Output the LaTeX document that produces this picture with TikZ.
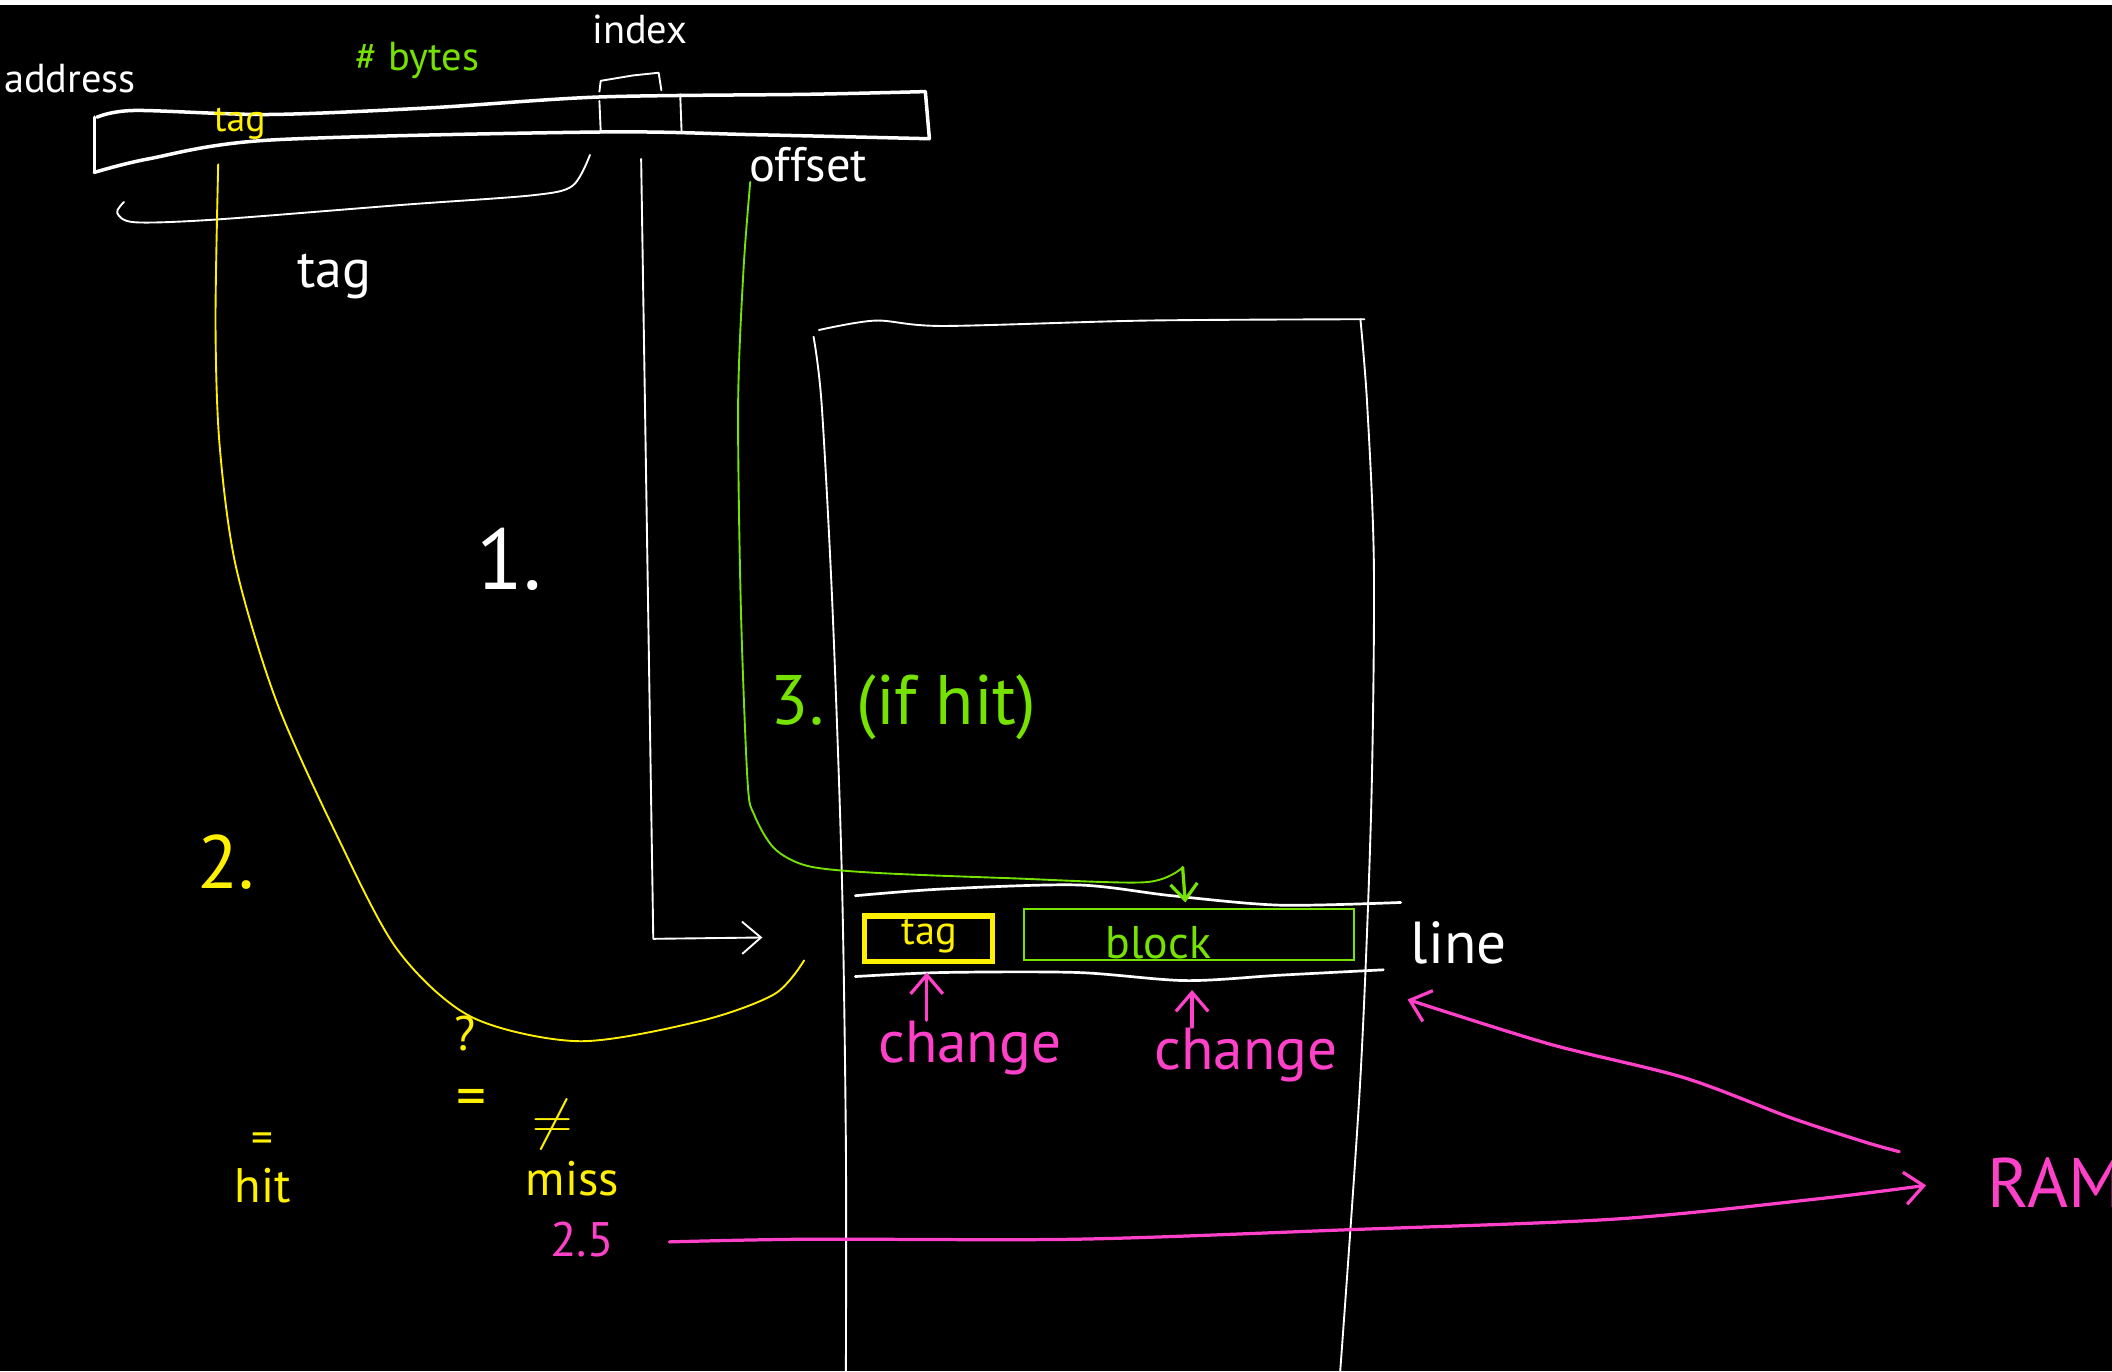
\documentclass[tikz,border=0pt]{standalone}
\usepackage{fontspec}
\setmainfont{PT Sans}
\usetikzlibrary{arrows.meta}
\definecolor{hlyellow}{RGB}{255,240,0}
\definecolor{hlgreen}{RGB}{118,226,0}
\definecolor{hlpink}{RGB}{255,64,200}
\tikzset{
  wline/.style={white, line width=0.7pt, line cap=round, line join=round},
  wbar/.style={white, line width=1.3pt, line cap=round, line join=round},
  yline/.style={hlyellow, line width=0.7pt, line cap=round},
  gline/.style={hlgreen, line width=0.7pt, line cap=round},
  pline/.style={hlpink, line width=1.2pt, line cap=round},
  barb/.style={-{Straight Barb[length=7pt,width=12pt]}},
  hand/.style={inner sep=0pt, font=\fontsize{#1}{#1}\selectfont},
}
\begin{document}
\begin{tikzpicture}[x=0.5pt,y=-0.5pt]
  \fill[black] (0,0) rectangle (1568,1018);
  \useasboundingbox (0,0) rectangle (1568,1018);
  \fill[white] (0,0) rectangle (1568,4);

  % address split into tag / index / offset
  \draw[wbar] plot[smooth] coordinates {(72,87) (100,82) (200,85) (320,80) (445,72) (600,70) (687,68)};
  \draw[wbar] plot[smooth] coordinates {(70,128) (110,118) (200,104) (445,98) (560,100) (690,103)};
  \draw[wbar] (70,87) -- (70,128);
  \draw[wbar] (687,68) -- (690,103);
  \draw[wline] (445,75) -- (446,98);
  \draw[wline] (505,70) -- (506,97);
  \draw[wline] (445,68) -- (446,60) -- (470,56) -- (489,54) -- (491,67);
  \draw[wline] plot[smooth] coordinates {(92,150) (87,158) (100,165) (160,163) (300,152) (395,145) (425,138) (438,115)};

  \node[hand=15, white] (addr) at (52,58) {address};
  \node[hand=15, hlgreen] (bytes) at (310,45) {\# bytes};
  \node[hand=15, white] (idx) at (475,22) {index};
  \node[hand=14, hlyellow] (tagbar) at (178,92) {tag};
  \node[hand=18, white] (offs) at (600,122) {offset};
  \node[hand=20, white] (tagw) at (248,205) {tag};

  % cache
  \draw[wline] plot[smooth] coordinates {(604,250) (610,300) (618,450) (625,650) (628,850) (628,1018)};
  \draw[wline] plot[smooth] coordinates {(608,245) (650,238) (700,242) (850,238) (1013,237)};
  \draw[wline] plot[smooth] coordinates {(1010,237) (1015,300) (1020,420) (1018,600) (1010,800) (995,1018)};

  % one cache line
  \draw[wline, line width=1pt] plot[smooth] coordinates {(635,665) (700,660) (800,657) (870,665) (950,672) (1040,670)};
  \draw[wline, line width=1pt] plot[smooth] coordinates {(635,725) (700,722) (800,722) (880,728) (950,724) (1027,720)};
  \draw[hlyellow, line width=2pt] (642,680) rectangle (737,714);
  \draw[hlgreen, line width=0.8pt] (760,675) rectangle (1005,713);
  \node[hand=15, hlyellow] (tagbox) at (690,695) {tag};
  \node[hand=17, hlgreen] (block) at (860,700) {block};
  \node[hand=22, white] (line) at (1083,700) {line};

  % step 1: index picks the line
  \coordinate (idxfoot) at (476,118);
  \coordinate (idxend) at (566,696);
  \draw[wline, barb] (idxfoot) -- (485,697) -- (idxend);
  \node[hand=32, white] (one) at (378,415) {1.};

  % step 2: compare the tags
  \coordinate (tagfoot) at (162,122);
  \coordinate (tagend) at (597,713);
  \draw[yline] plot[smooth] coordinates {(tagfoot) (160,240) (163,330) (175,420) (205,520) (250,620) (295,705) (350,755) (430,773) (520,758) (575,738) (tagend)};
  \node[hand=18, hlyellow] (ask) at (345,767) {?};
  \node[hand=22, hlyellow] (eqq) at (350,819) {=};
  \node[hand=28, hlyellow] (two) at (168,640) {2.};
  \node[hand=16, hlyellow] (eqhit) at (195,848) {=};
  \node[hand=18, hlyellow] (hit) at (195,880) {hit};
  \node[hand=20, hlyellow] (neq) at (410,835) {\ensuremath{\neq}};
  \node[hand=18, hlyellow] (miss) at (425,875) {miss};

  % step 3: offset into the block
  \coordinate (offfoot) at (557,135);
  \coordinate (offturn) at (878,644);
  \draw[gline] plot[smooth] coordinates {(offfoot) (552,200) (548,300) (550,450) (555,580) (560,605) (575,630) (600,643) (650,648) (750,652) (850,655) (offturn)};
  \draw[gline, line width=1.2pt, -{Straight Barb[length=6pt,width=10pt]}] (offturn) -- (880,670);
  \node[hand=26, hlgreen, anchor=west] (three) at (572,525) {3.\hspace{12pt}(if hit)};

  % changes and RAM
  \node[hand=22, hlpink] (chtag) at (720,778) {change};
  \node[hand=22, hlpink] (chblock) at (925,783) {change};
  \draw[pline, barb] (chtag.north -| 688,0) -- (688,722);
  \draw[pline, barb] (chblock.north -| 885,0) -- (885,735);
  \node[hand=26, hlpink, anchor=west] (ram) at (1475,878) {RAM};
  \node[hand=18, hlpink] (twofive) at (432,920) {2.5};
  \coordinate (ramtop) at (1410,855);
  \coordinate (linebk) at (1045,742);
  \draw[pline, barb] plot[smooth] coordinates {(ramtop) (1385,848) (1330,830) (1250,800) (1150,775) (linebk)};
  \draw[pline, barb] plot[smooth] coordinates {(497,922) (600,920) (800,920) (1000,913) (1200,905) (1350,890) (1430,880)};
\end{tikzpicture}
\end{document}
